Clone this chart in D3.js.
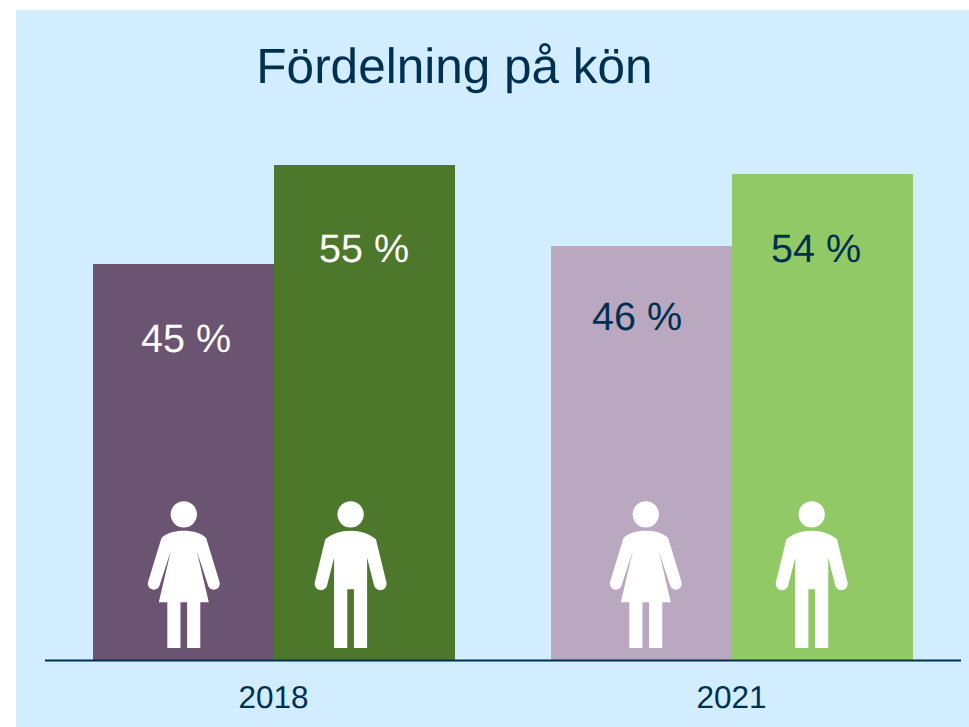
<!DOCTYPE html>
<html><head><meta charset="utf-8">
<script src="https://cdn.jsdelivr.net/npm/d3@7"></script>
<style>html,body{margin:0;padding:0;background:#fff}svg{display:block}text{font-family:"Liberation Sans",Arial,sans-serif;text-rendering:geometricPrecision}</style>
</head><body><div id="c"></div>
<script>
const years = ["2018","2021"];
const genders = ["Kvinnor","Män"];
const barValues = [44,55,46,54];
const valueLabels = ["45 %","55 %","46 %","54 %"];
const barColors = ["#6b5372","#4d782b","#baa7c0","#90c966"];
const labelColors = ["#ffffff","#ffffff","#00304f","#00304f"];
const labelOffsets = [2.5,-0.5,-4.5,-6.5];
const labelDrops = [88,97,84,88];
const iconOffsets = [0.3,-13.9,4.3,-10.8];
const title = "Fördelning på kön";

const W=969,H=727, ink="#00304f";
const svg=d3.select("#c").append("svg").attr("width",W).attr("height",H);
svg.append("rect").attr("x",16).attr("y",10).attr("width",W-16).attr("height",H-10).attr("fill","#d1edff");

const baseY=660;
const y=d3.scaleLinear().domain([0,55]).range([baseY,165]);
const x0=d3.scalePoint().domain(years).range([274,732]);
const x1=d3.scaleBand().domain(genders).range([-181,181]);

const rows=years.flatMap((yr,i)=>genders.map((g,j)=>{
  const k=i*2+j;
  return {yr,g,k,v:barValues[k],label:valueLabels[k],color:barColors[k],lc:labelColors[k],lo:labelOffsets[k],ld:labelDrops[k],io:iconOffsets[k]};
}));
const bx=d=>x0(d.yr)+x1(d.g);
const cx=d=>bx(d)+x1.bandwidth()/2;

svg.selectAll("rect.bar").data(rows).join("rect").attr("class","bar")
  .attr("x",bx).attr("y",d=>y(d.v)).attr("width",x1.bandwidth()).attr("height",d=>baseY-y(d.v)).attr("fill",d=>d.color);

svg.append("line").attr("x1",45).attr("x2",961).attr("y1",660.5).attr("y2",660.5).attr("stroke",ink).attr("stroke-width",2);

svg.append("text").attr("x",454.5).attr("y",82.5).attr("text-anchor","middle").attr("font-size",49.5).attr("fill",ink).text(title);

svg.selectAll("text.val").data(rows).join("text").attr("class","val")
  .attr("x",d=>cx(d)+d.lo).attr("y",d=>y(d.v)+d.ld).attr("text-anchor","middle")
  .attr("font-size",39.5).attr("fill",d=>d.lc).text(d=>d.label);

svg.selectAll("text.yr").data(years).join("text").attr("class","yr")
  .attr("x",d=>x0(d)-0.5).attr("y",708).attr("text-anchor","middle").attr("font-size",31.5).attr("fill",ink).text(d=>d);

const female="M0-352C-28-352-52-346-67-330L-107-199A17.5 17.5 0 0 0-73-187L-39-291L-75-137H-49.5V0H-10V-137H10V0H49.5V-137H75L39-291L73-187A17.5 17.5 0 0 0 107-199L67-330C52-346 28-352 0-352Z";
const male="M0-352C-30-352-58-342-76-326L-107-199A18 18 0 0 0-71-186L-49.5-271V0H-10V-176H10V0H49.5V-271L71-186A18 18 0 0 0 107-199L76-326C58-342 30-352 0-352Z";
const icons=svg.selectAll("g.icon").data(rows).join("g").attr("class","icon")
  .attr("transform",d=>`translate(${cx(d)+d.io},648) scale(${1/3})`).attr("fill","#fff");
icons.append("circle").attr("cy",-401).attr("r",39.5);
icons.append("path").attr("d",d=>d.g==="Män"?male:female);
</script></body></html>
